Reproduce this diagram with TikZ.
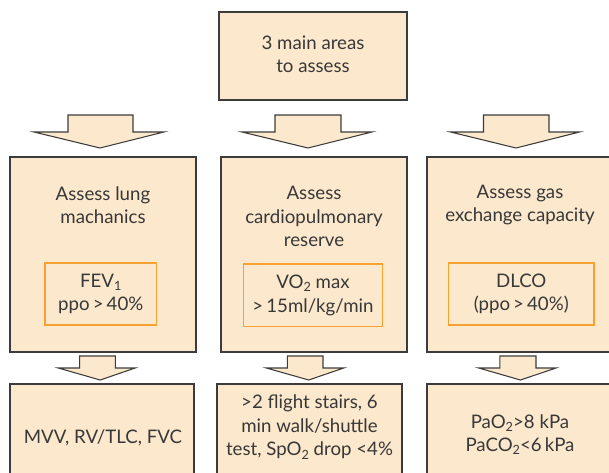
\documentclass[tikz,border=0pt]{standalone}
\usepackage{fontspec}
\setmainfont{Lato}
\usetikzlibrary{fit}
\definecolor{peach}{HTML}{FCE8CC}
\definecolor{edge}{HTML}{3C3C3C}
\definecolor{orng}{HTML}{F5A232}
\definecolor{ink}{HTML}{383838}
\newcommand{\blockarr}[8]{%
  \draw[barrow] (#1,#6) -- (#2,#6) -- (#2,#7) -- (#4,#7) -- (#5,#8) -- (#3,#7) -- (#1,#7) -- cycle;}
\newcommand{\lowsub}[1]{\raisebox{-0.35ex}{\fontsize{9.5}{9.5}\selectfont #1}}
\begin{document}
\begin{tikzpicture}[x=0.75pt,y=-0.75pt,
  box/.style={draw=edge,fill=peach,line width=0.8pt,inner sep=0pt},
  innerbox/.style={draw=orng,line width=0.8pt,inner sep=0pt},
  txt/.style={align=center,font=\fontsize{14}{17.6}\selectfont,text=ink,inner sep=0pt},
  barrow/.style={draw=edge,fill=peach,line width=0.8pt,line join=miter}]
\useasboundingbox (0,0) rectangle (609,472);
\clip (0,0) rectangle (609,472);
% top
\node[box,fit={(219,12) (407,100)}] (top) {};
\node[txt] (toptxt) at (313,54) {3 main areas\\to assess};
% arrows row 1
\blockarr{68}{133}{34}{164}{100}{115}{132}{148}
\blockarr{275}{341}{242}{372}{308}{115}{132}{148}
\blockarr{483.5}{549}{450.5}{579.5}{516}{115}{132}{148}
% column boxes
\node[box,fit={(10,157) (196,352)}] (L) {};
\node[box,fit={(221,157) (407,352)}] (M) {};
\node[box,fit={(427,157) (620,352)}] (R) {};
\node[txt] (Lt) at (103,205) {Assess lung\\machanics};
\node[txt] (Mt) at (314,216.7) {Assess\\cardiopulmonary\\reserve};
\node[txt] (Rt) at (520,205) {Assess gas\\exchange capacity};
% inner boxes
\node[innerbox,fit={(45,263) (156.5,325)}] (Li) {};
\node[innerbox,fit={(243.5,264) (382.5,326.5)}] (Mi) {};
\node[innerbox,fit={(448.5,263) (594,325)}] (Ri) {};
\node[txt] (Lit) at (Li.center) {FEV\lowsub{1}\\ppo\,>\,40\%};
\node[txt] (Mit) at (Mi.center) {VO\lowsub{2} max\\>\,15ml/kg/min};
\node[txt] (Rit) at (Ri.center) {DLCO\\(ppo\,>\,40\%)};
% arrows row 2
\blockarr{79.6}{115.3}{58.3}{135.1}{100.2}{356}{368}{380}
\blockarr{287.4}{323}{266.4}{343.7}{308.7}{356}{368}{380}
\blockarr{499.8}{536}{478.8}{556}{520.4}{356}{368}{380}
% bottom boxes
\node[box,fit={(10,384) (194,490)}] (Lb) {};
\node[box,fit={(217,384) (402,490)}] (Mb) {};
\node[box,fit={(427,384) (620,490)}] (Rb) {};
\node[txt] (Lbt) at (103,438) {MVV, RV/TLC, FVC};
\node[txt] (Mbt) at (309.5,427) {>2 flight stairs, 6\\min walk/shuttle\\test, SpO\lowsub{2} drop <4\%};
\node[txt] (Rbt) at (520,434.7) {PaO\lowsub{2}>8 kPa\\PaCO\lowsub{2}<6\,kPa};
\end{tikzpicture}
\end{document}
